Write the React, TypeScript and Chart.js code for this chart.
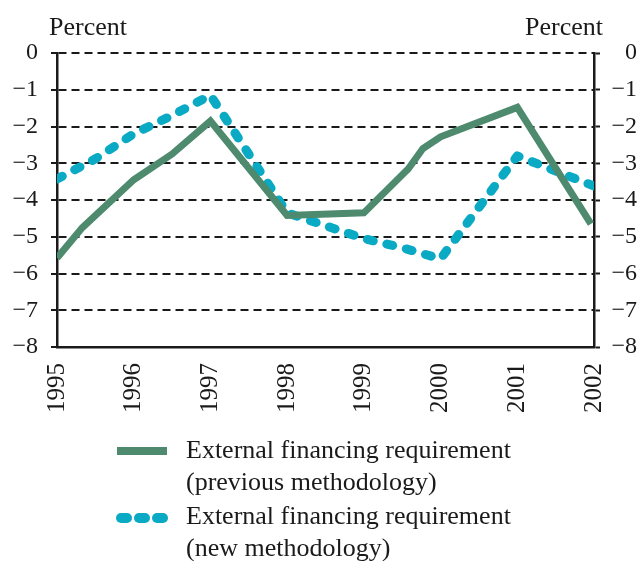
import React, { useEffect, useRef } from "react";
import { Chart, registerables } from "chart.js";

Chart.register(...registerables);

// ---- Data ----
const yearTicks = [1995, 1996, 1997, 1998, 1999, 2000, 2001, 2002];
const yTickValues = [0, -1, -2, -3, -4, -5, -6, -7, -8];

const prevYears = [1995, 1995.33, 1996, 1996.5, 1997, 1998, 1999, 1999.58, 1999.77, 2000, 2001, 2001.96];
const prevValues = [-5.58, -4.75, -3.45, -2.75, -1.85, -4.42, -4.35, -3.15, -2.6, -2.28, -1.48, -4.65];

const newYears = [1995, 1995.5, 1996, 1996.5, 1997, 1998, 1998.5, 1999, 1999.5, 2000, 2001, 2002];
const newValues = [-3.43, -2.88, -2.2, -1.7, -1.15, -4.35, -4.7, -5.05, -5.3, -5.6, -2.8, -3.62];

const prevLabel = ["External financing requirement", "(previous methodology)"];
const newLabel = ["External financing requirement", "(new methodology)"];
const unitLabel = "Percent";

const GREEN = "#4d8a6e";
const BLUE = "#0aa9c4";
const INK = "#1a1a1a";
const FONT = '"Liberation Serif", "Times New Roman", serif';

const fmtTick = (v: number) => (v < 0 ? "\u2212" + Math.abs(v) : String(v));

export default function App() {
  const ref = useRef<HTMLCanvasElement | null>(null);

  useEffect(() => {
    if (!ref.current) return;
    const yCommon = {
      min: -8,
      max: 0,
      afterBuildTicks: (s: any) => {
        s.ticks = yTickValues.map((v) => ({ value: v }));
      },
    };
    const chart = new Chart(ref.current, {
      type: "line",
      data: {
        datasets: [
          {
            label: prevLabel.join(" "),
            data: prevYears.map((x, i) => ({ x, y: prevValues[i] })),
            borderColor: GREEN,
            backgroundColor: GREEN,
            borderWidth: 7,
            pointRadius: 0,
            tension: 0,
            borderJoinStyle: "miter",
          },
          {
            label: newLabel.join(" "),
            data: newYears.map((x, i) => ({ x, y: newValues[i] })),
            borderColor: BLUE,
            backgroundColor: BLUE,
            borderWidth: 9,
            borderDash: [6, 14],
            borderCapStyle: "round",
            borderJoinStyle: "round",
            pointRadius: 0,
            tension: 0,
          },
        ],
      },
      options: {
        responsive: false,
        animation: false,
        layout: { padding: { top: 53, left: 0, right: 0, bottom: 0 } },
        plugins: { legend: { display: false }, tooltip: { enabled: false } },
        scales: {
          x: {
            type: "linear",
            min: 1995,
            max: 2002,
            afterBuildTicks: (s: any) => {
              s.ticks = yearTicks.map((v) => ({ value: v }));
            },
            ticks: {
              autoSkip: false,
              minRotation: 90,
              maxRotation: 90,
              padding: 16,
              color: INK,
              font: { family: FONT, size: 25 },
              callback: (v: any) => String(v),
            },
            grid: { display: false, drawTicks: false },
            border: { display: true, color: INK, width: 2.5 },
            afterFit: (s: any) => {
              s.height = 214;
            },
          },
          y: {
            ...yCommon,
            position: "left",
            ticks: {
              padding: 13,
              color: INK,
              font: { family: FONT, size: 24 },
              callback: (v: any) => fmtTick(Number(v)),
            },
            grid: {
              color: INK,
              lineWidth: 2,
              tickLength: 6,
              tickColor: INK,
              tickWidth: 2,
            },
            border: { display: true, dash: [8, 5], color: INK, width: 2.5 },
            afterFit: (s: any) => {
              s.width = 57;
            },
          },
          y2: {
            ...yCommon,
            position: "right",
            ticks: {
              padding: 9,
              crossAlign: "far",
              color: INK,
              font: { family: FONT, size: 24 },
              callback: (v: any) => fmtTick(Number(v)),
            },
            grid: {
              drawOnChartArea: false,
              tickLength: 6,
              tickColor: INK,
              tickWidth: 2,
              color: INK,
            },
            border: { display: true, color: INK, width: 2.5 },
            afterFit: (s: any) => {
              s.width = 43;
            },
          },
        },
      },
    } as any);
    return () => chart.destroy();
  }, []);

  const textStyle: React.CSSProperties = {
    position: "absolute",
    fontFamily: FONT,
    fontSize: 26,
    lineHeight: "32px",
    color: INK,
    whiteSpace: "nowrap",
  };
  const dot: React.CSSProperties = {
    width: 16,
    height: 10,
    borderRadius: 5,
    background: BLUE,
  };

  return (
    <div style={{ position: "absolute", left: 0, top: 0, width: 640, height: 561, background: "#fff", overflow: "hidden" }}>
      <canvas ref={ref} width={640} height={561} style={{ position: "absolute", left: 0, top: 0 }} />
      <span style={{ ...textStyle, left: 49, top: 11 }}>{unitLabel}</span>
      <span style={{ ...textStyle, right: 37, top: 11 }}>{unitLabel}</span>
      <div style={{ position: "absolute", left: 117, top: 447, width: 50, height: 8, background: GREEN }} />
      <div style={{ ...textStyle, left: 186, top: 434 }}>
        {prevLabel[0]}
        <br />
        {prevLabel[1]}
      </div>
      <div style={{ position: "absolute", left: 116, top: 513, display: "flex", gap: 2 }}>
        <div style={dot} />
        <div style={dot} />
        <div style={dot} />
      </div>
      <div style={{ ...textStyle, left: 186, top: 500 }}>
        {newLabel[0]}
        <br />
        {newLabel[1]}
      </div>
    </div>
  );
}
